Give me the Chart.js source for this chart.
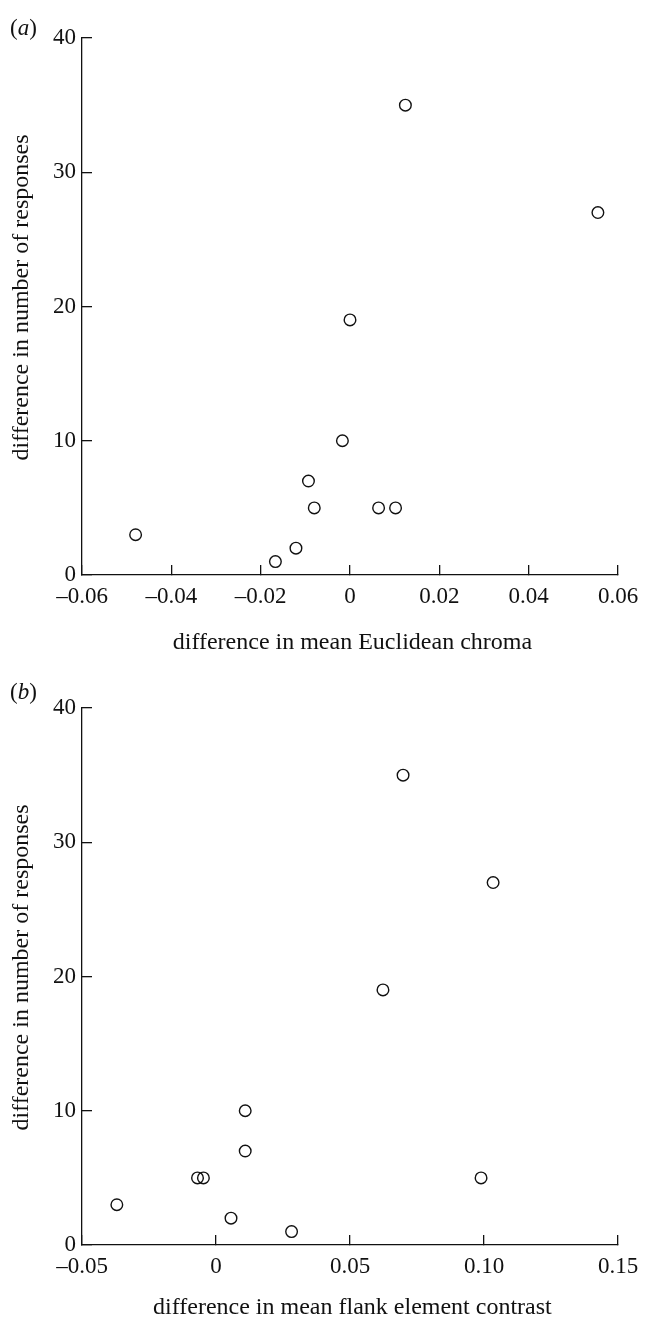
<!DOCTYPE html>
<html>
<head>
<meta charset="utf-8">
<script src="https://cdn.jsdelivr.net/npm/chart.js@4"></script>
<style>
  body { margin: 0; background: #fff; overflow: hidden; }
  #wrap { position: relative; width: 646px; height: 1319px; }
  canvas { position: absolute; left: 0; }
  .panel { position: absolute; left: 10px; font: 23px 'Liberation Serif', serif; color: #111; line-height: 23px; }
</style>
</head>
<body>
<div id="wrap">
  <canvas id="chartA" width="646" height="660" style="top:0"></canvas>
  <canvas id="chartB" width="646" height="670" style="top:660px"></canvas>
  <div class="panel" style="top:16px">(<i>a</i>)</div>
  <div class="panel" style="top:680px">(<i>b</i>)</div>
</div>
<script>
// panel (a): chroma
let chromaX = [-0.048, -0.0167, -0.0121, -0.0093, -0.0080, -0.0017, 0.0, 0.0064, 0.0102, 0.0124, 0.0555];
let chromaY = [3, 1, 2, 7, 5, 10, 19, 5, 5, 35, 27];
let chromaTicks = [-0.06, -0.04, -0.02, 0, 0.02, 0.04, 0.06];

// panel (b): flank element contrast
let contrastX = [-0.037, -0.0069, -0.0047, 0.0056, 0.0282, 0.0109, 0.0109, 0.0623, 0.0698, 0.1034, 0.0989];
let contrastY = [3, 5, 5, 2, 1, 10, 7, 19, 35, 27, 5];
let contrastTicks = [-0.05, 0, 0.05, 0.10, 0.15];

let responseTicks = [0, 10, 20, 30, 40];

Chart.defaults.font.family = "'Liberation Serif', 'DejaVu Serif', serif";
Chart.defaults.font.size = 23;
Chart.defaults.color = "#111";

function fmt(v) {
  if (Math.abs(v) < 1e-9) return "0";
  return (v < 0 ? "\u2013" : "") + Math.abs(v).toFixed(2);
}

function makeChart(id, xs, ys, xTicks, xTitle, padTop, titlePad) {
  let points = xs.map((x, i) => ({ x: x, y: ys[i] }));
  let ink = "#111";
  return new Chart(document.getElementById(id), {
    type: "scatter",
    data: {
      datasets: [{
        data: points,
        pointRadius: 5.8,
        pointBorderWidth: 1.4,
        pointBorderColor: ink,
        pointBackgroundColor: "rgba(0,0,0,0)"
      }]
    },
    options: {
      responsive: false,
      animation: false,
      devicePixelRatio: 1,
      layout: { padding: { top: padTop, right: 28, left: 0, bottom: 0 } },
      plugins: { legend: { display: false }, tooltip: { enabled: false } },
      scales: {
        x: {
          type: "linear",
          min: xTicks[0],
          max: xTicks[xTicks.length - 1],
          afterBuildTicks: s => { s.ticks = xTicks.map(v => ({ value: v })); },
          afterFit: s => { s.height = 85; s.paddingLeft = 0; s.paddingRight = 0; },
          ticks: { autoSkip: false, maxRotation: 0, padding: 18, callback: v => fmt(v) },
          grid: { drawOnChartArea: false, tickLength: -10, color: ink, lineWidth: 1.3 },
          border: { display: true, color: ink, width: 1.3 },
          title: { display: true, text: "\u2009" + xTitle, font: { size: 24 }, padding: { top: 0, bottom: titlePad } }
        },
        y: {
          min: 0,
          max: 40,
          afterBuildTicks: s => { s.ticks = responseTicks.map(v => ({ value: v })); },
          afterFit: s => { s.width = 82; },
          ticks: { padding: 16, callback: v => String(v) },
          grid: { drawOnChartArea: false, tickLength: -10, color: ink, lineWidth: 1.3 },
          border: { display: true, color: ink, width: 1.3 },
          // leading spaces nudge the rotated title a little upwards, as in the original
          title: { display: true, text: "\u00a0\u00a0\u00a0difference in number of responses", font: { size: 24 }, padding: { top: 7, bottom: 0 } }
        }
      }
    }
  });
}

makeChart("chartA", chromaX, chromaY, chromaTicks, "difference in mean Euclidean chroma", 38, 3);
makeChart("chartB", contrastX, contrastY, contrastTicks, "difference in mean flank element contrast", 48, 8);
</script>
</body>
</html>
